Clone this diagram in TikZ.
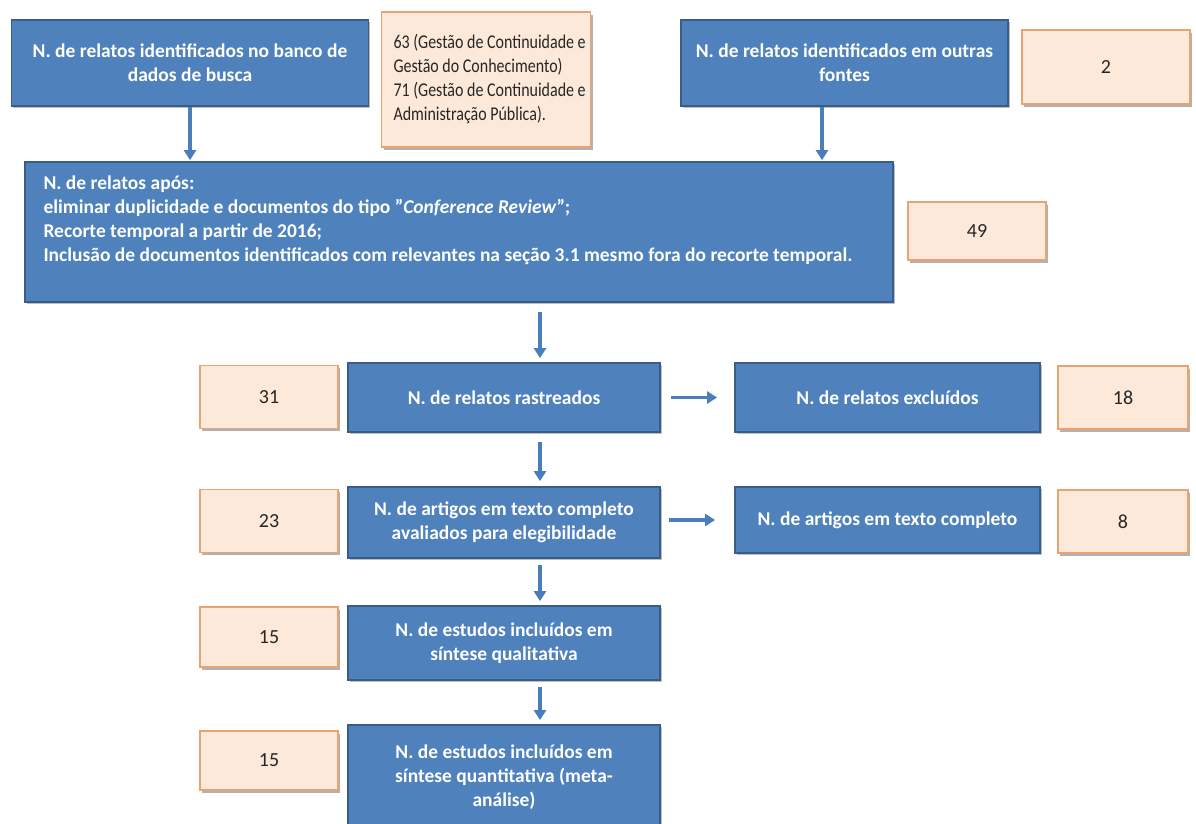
\documentclass[tikz,border=0pt]{standalone}
\usepackage{fontspec}
\setmainfont{Carlito}
\newfontfamily\condfont[FakeStretch=0.82]{Carlito}
\usetikzlibrary{arrows.meta,shadows}
\definecolor{bfill}{HTML}{4F81BD}
\definecolor{bdraw}{HTML}{385D8A}
\definecolor{pfill}{HTML}{FDE9D9}
\definecolor{pdraw}{HTML}{E8A470}
\definecolor{arrc}{HTML}{4A7EBB}
\tikzset{
  bluebox/.style={draw=bdraw, fill=bfill, line width=1.8pt, text=white, align=center,
    inner sep=0pt, font=\fontsize{19.5}{24}\selectfont\bfseries,
    drop shadow={shadow xshift=1.5pt, shadow yshift=-1.5pt, fill=black, opacity=0.25}},
  peachbox/.style={draw=pdraw, fill=pfill, line width=1.4pt, text=black!85, align=center,
    inner sep=0pt, font=\fontsize{20}{24}\selectfont,
    drop shadow={shadow xshift=2pt, shadow yshift=-2.5pt, fill=black, opacity=0.3}},
  arr/.style={draw=arrc, line width=3.2pt, -{Triangle[width=12pt,length=10pt]}}
}
\begin{document}
\begin{tikzpicture}[x=1pt,y=-1pt]
\useasboundingbox (0,0) rectangle (1196,823);
\clip (0,0) rectangle (1196,823);
% top row
\node[bluebox, minimum width=357pt, minimum height=86pt] (b1) at (190,63)
  {N. de relatos identificados no banco de\\dados de busca};
\node[peachbox, minimum width=209pt, minimum height=135pt] (p1) at (486,79.5)
  {\parbox{209pt}{\condfont\fontsize{19.5}{24}\selectfont\raggedright\leftskip=12pt\hyphenpenalty=10000
   63 (Gestão de Continuidade e\\Gestão do Conhecimento)\\71 (Gestão de Continuidade e\\Administração Pública).}};
\node[bluebox, minimum width=327pt, minimum height=86pt] (b2) at (844.5,63)
  {N. de relatos identificados em outras\\fontes};
\node[peachbox, minimum width=168pt, minimum height=74pt] (p2) at (1106,67) {2};
% big box
\node[bluebox, minimum width=868pt, minimum height=140pt] (big) at (459,232)
  {\parbox[c][140pt][t]{855pt}{\raggedright\leftskip=12pt\vspace*{14pt}N. de relatos após:\\
   eliminar duplicidade e documentos do tipo \symbol{"22}\textit{Conference Review}\symbol{"22};\\
   Recorte temporal a partir de 2016;\\
   Inclusão de documentos identificados com relevantes na seção 3.1 mesmo fora do recorte temporal.}};
\node[peachbox, minimum width=138pt, minimum height=58pt] (p3) at (977,231) {49};
% row 2
\node[peachbox, minimum width=138pt, minimum height=63pt] (p4) at (269,397) {31};
\node[bluebox, minimum width=312pt, minimum height=69pt] (rast) at (504,397.5) {N. de relatos rastreados};
\node[bluebox, minimum width=305pt, minimum height=69pt] (excl) at (887.5,397.5) {N. de relatos excluídos};
\node[peachbox, minimum width=130pt, minimum height=63pt] (p5) at (1123,397.5) {18};
% row 3
\node[peachbox, minimum width=138pt, minimum height=63pt] (p6) at (269,521) {23};
\node[bluebox, minimum width=312pt, minimum height=71pt] (art) at (504,522.5)
  {N. de artigos em texto completo\\avaliados para elegibilidade};
\node[bluebox, minimum width=305pt, minimum height=66pt] (art2) at (887.5,520) {N. de artigos em texto completo};
\node[peachbox, minimum width=130pt, minimum height=63pt] (p7) at (1123,521.5) {8};
% row 4
\node[peachbox, minimum width=138pt, minimum height=60pt] (p8) at (269,637) {15};
\node[bluebox, minimum width=312pt, minimum height=74pt] (qual) at (504,643)
  {N. de estudos incluídos em\\síntese qualitativa};
% row 5
\node[peachbox, minimum width=138pt, minimum height=59pt] (p9) at (269,760.5) {15};
\node[bluebox, minimum width=312pt, minimum height=105pt] (quant) at (504,777.5)
  {N. de estudos incluídos em\\síntese quantitativa (meta-\\análise)};
% arrows
\coordinate (ax) at (540,0);
\coordinate (lx) at (190,0);
\coordinate (rx) at (822,0);
\draw[arr, shorten >=1pt] (b1.south -| lx) -- (big.north -| lx);
\draw[arr, shorten >=1pt] (b2.south -| rx) -- (big.north -| rx);
\draw[arr, shorten <=9pt, shorten >=4pt] (big.south -| ax) -- (rast.north -| ax);
\draw[arr, shorten <=9pt, shorten >=5pt] (rast.south -| ax) -- (art.north -| ax);
\draw[arr, shorten <=6pt, shorten >=4pt] (art.south -| ax) -- (qual.north -| ax);
\draw[arr, shorten <=6pt, shorten >=4pt] (qual.south -| ax) -- (quant.north -| ax);
\draw[arr, shorten <=10pt, shorten >=17pt] (rast.east) -- (rast.east -| excl.west);
\draw[arr, shorten <=8pt, shorten >=19pt] (art.east |- art2.west) -- (art2.west);
\end{tikzpicture}
\end{document}
